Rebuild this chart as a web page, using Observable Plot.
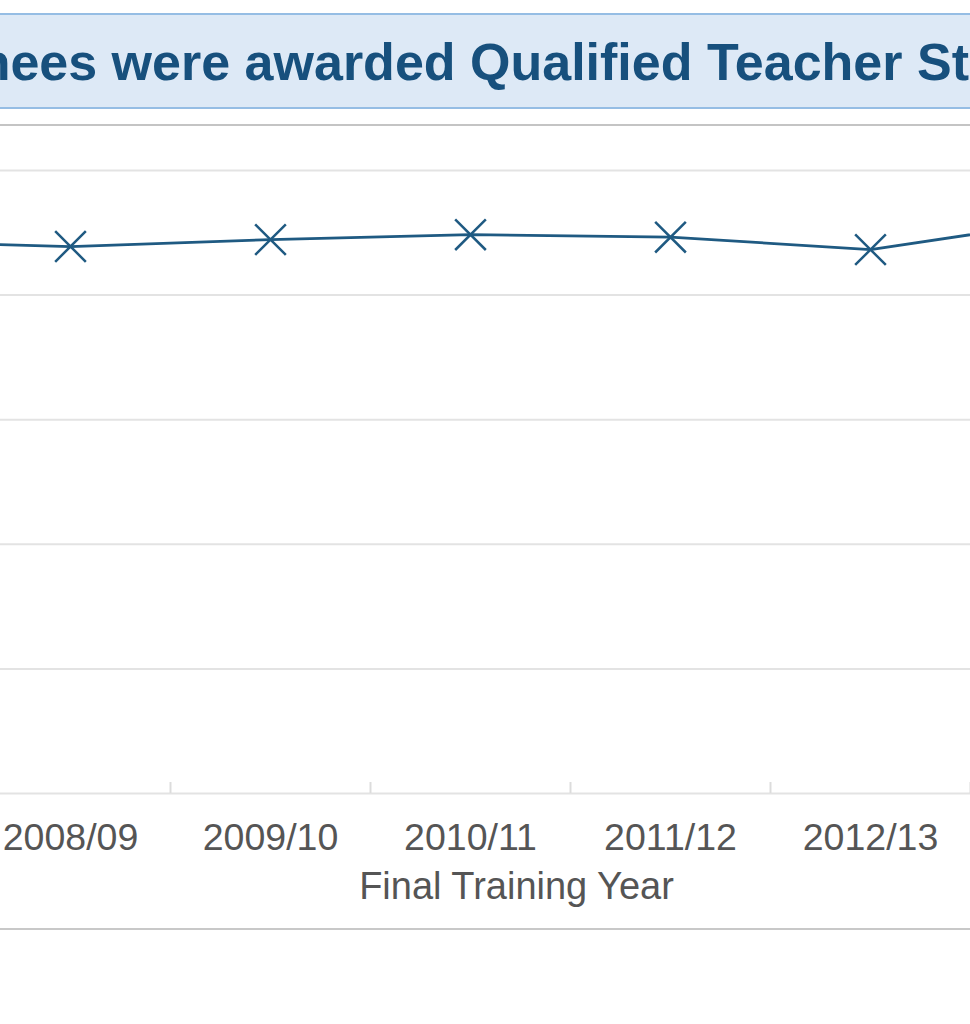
<!DOCTYPE html>
<html>
<head>
<meta charset="utf-8">
<script src="https://cdn.jsdelivr.net/npm/d3@7"></script>
<script src="https://cdn.jsdelivr.net/npm/@observablehq/plot@0.6"></script>
<style>
  html, body { margin:0; padding:0; background:#fff; width:970px; height:1024px; overflow:hidden; position:relative;
    font-family:"Liberation Sans", Arial, sans-serif; }
  #titlebox { position:absolute; left:-20px; width:1010px; top:13px; height:92px; background:#dde9f6;
    border-top:2px solid #95bde4; border-bottom:2px solid #95bde4; overflow:hidden; }
  #title { position:absolute; top:21px; left:0; white-space:nowrap; font-weight:bold; font-size:52px;
    line-height:52px; color:#17507d; }
  #chart { position:absolute; left:0; top:124px; width:970px; height:802px;
    border-top:2px solid #c4c4c4; border-bottom:2px solid #c8c8c8; }
  #chart svg { display:block; }
</style>
</head>
<body>
<div id="titlebox"><span id="title"></span></div>
<div id="chart"></div>
<script>
// ---- data ----
const titleText = "Percentage of trainees were awarded Qualified Teacher Status";
const years = ["2007/08", "2008/09", "2009/10", "2010/11", "2011/12", "2012/13", "2013/14"];
const qtsRate = [88.6, 87.8, 88.9, 89.7, 89.3, 87.3, 92.1];
const yTicks = [0, 20, 40, 60, 80, 100];
const xLabel = "Final Training Year";
const visibleYears = ["2008/09", "2009/10", "2010/11", "2011/12", "2012/13"];

const data = years.map((year, i) => ({ i, year, value: qtsRate[i] }));
const labelData = data.filter(d => visibleYears.includes(d.year));
const bounds = years.slice(1).map((_, k) => k + 0.5);

// ---- title (cropped, as in the reference) ----
const span = document.getElementById("title");
span.textContent = titleText;
const tn = span.firstChild;
const idx = titleText.indexOf("Qualified");
const rg = document.createRange();
rg.setStart(tn, idx); rg.setEnd(tn, idx + 1);
const off = rg.getBoundingClientRect().left - span.getBoundingClientRect().left;
span.style.left = (490 - off) + "px";

// ---- chart ----
const color = "#1f5a82";
const grey = "#555555";
const chart = Plot.plot({
  width: 970,
  height: 802,
  marginTop: 44,
  marginBottom: 135,
  marginLeft: 0,
  marginRight: 0,
  x: { type: "linear", domain: [1, 5], range: [70, 870], axis: null },
  y: { domain: [0, 100], axis: null },
  style: { fontFamily: '"Liberation Sans", Arial, sans-serif', background: "transparent" },
  marks: [
    Plot.ruleY(yTicks, { stroke: "#e3e3e3", strokeWidth: 2 }),
    Plot.ruleX(bounds, { x: d => d, y1: 0, y2: 0, insetTop: -11, stroke: "#dcdcdc", strokeWidth: 2 }),
    Plot.text(labelData, { x: "i", y: 0, text: "year", lineAnchor: "top", dy: 30, fontSize: 37.5, fill: grey }),
    Plot.text([xLabel], { frameAnchor: "bottom", dx: 31, dy: 79, lineAnchor: "top", fontSize: 38, fill: grey }),
    Plot.line(data, { x: "i", y: "value", stroke: color, strokeWidth: 2.75 }),
    Plot.dot(data, { x: "i", y: "value", symbol: "times", r: 14, stroke: color, strokeWidth: 2.5 })
  ]
});
document.getElementById("chart").appendChild(chart);
</script>
</body>
</html>
